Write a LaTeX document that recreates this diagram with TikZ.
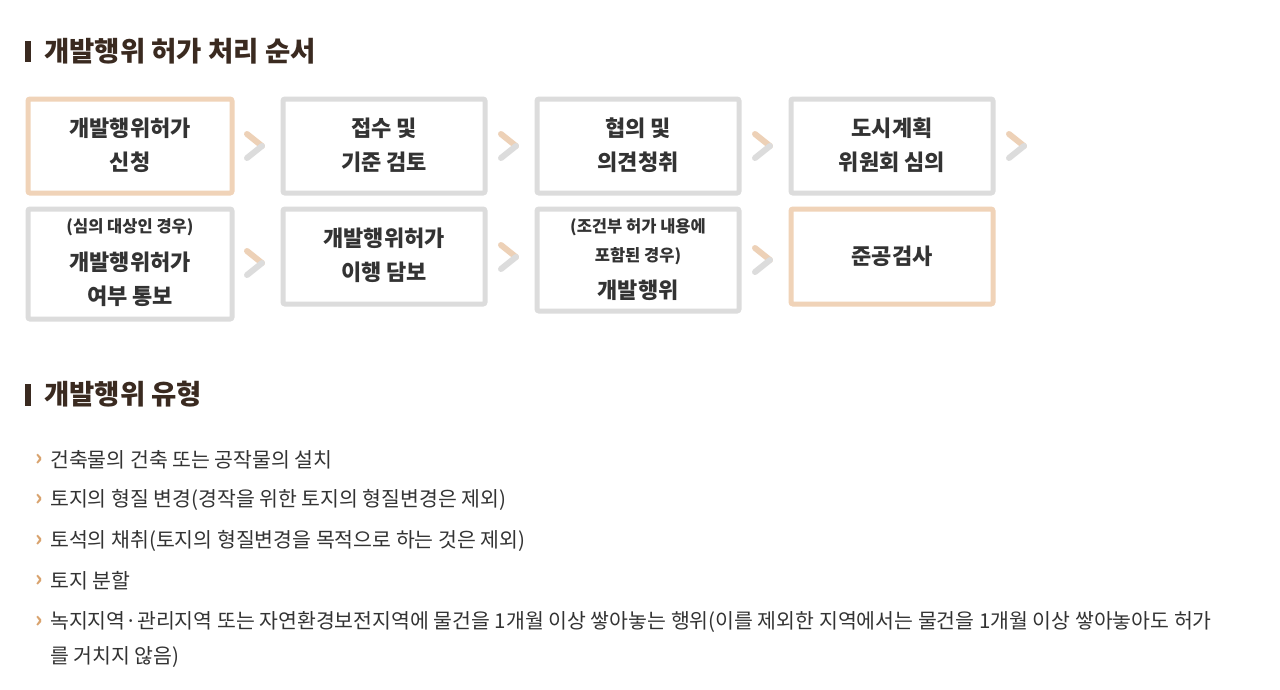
\documentclass[tikz,border=0pt]{standalone}
\usepackage{fontspec}
\setmainfont{Noto Sans CJK KR}
\definecolor{peach}{HTML}{F0D3B8}
\definecolor{gbox}{HTML}{DCDCDC}
\definecolor{txt}{HTML}{333333}
\definecolor{ttl}{HTML}{3A2A20}
\definecolor{bul}{HTML}{D9A36E}
\begin{document}
\begin{tikzpicture}[x=1pt,y=-1pt,
  boxg/.style={draw=gbox,line width=5pt,rounded corners=2pt,fill=white},
  boxp/.style={draw=peach,line width=5pt,rounded corners=2pt,fill=white},
  btxt/.style={font=\fontsize{22}{34}\selectfont\bfseries,text=txt,align=center},
  stxt/.style={font=\fontsize{16.5}{29}\selectfont\bfseries,text=txt,align=center},
  ttlt/.style={font=\fontsize{27.5}{30}\selectfont\bfseries,text=ttl,anchor=west,inner sep=0pt},
  lit/.style={font=\fontsize{20.5}{24}\selectfont,text=txt,anchor=west,inner sep=0pt},
  bl/.style={font=\fontsize{22}{24}\selectfont\bfseries,text=bul,inner sep=0pt}]
\useasboundingbox (0,0) rectangle (1280,689);
\fill[white] (0,0) rectangle (1280,689);
\newcommand\chev[2]{%
  \draw[peach!85!brown,line width=6pt,line cap=round,opacity=.8] (#1-9,#2-12) -- (#1+6,#2);
  \draw[gbox,line width=6pt,line cap=round] (#1+6,#2) -- (#1-9,#2+12);}
% title 1
\fill[ttl] (25,41) rectangle (31,62);
\node[ttlt] (t1) at (44,51) {개발행위 허가 처리 순서};
% row 1
\draw[boxp] (28,99) rectangle (232,193); \node[btxt] (a1) at (130,145) {개발행위허가\\신청};
\draw[boxg] (283,99) rectangle (485,193); \node[btxt] (a2) at (384,145) {접수 및\\기준 검토};
\draw[boxg] (537,99) rectangle (739,193); \node[btxt] (a3) at (638,145) {협의 및\\의견청취};
\draw[boxg] (791,99) rectangle (993,193); \node[btxt] (a4) at (892,145) {도시계획\\위원회 심의};
\chev{256}{146}\chev{510}{146}\chev{764}{146}\chev{1018}{146}
% row 2
\draw[boxg] (28,209) rectangle (232,319);
\node[stxt] (b1s) at (130,227) {(심의 대상인 경우)};
\node[btxt] (b1) at (130,279) {개발행위허가\\여부 통보};
\draw[boxg] (283,209) rectangle (485,304); \node[btxt] (b2) at (384,255) {개발행위허가\\이행 담보};
\draw[boxg] (537,209) rectangle (739,311);
\node[stxt] (b3s) at (638,242) {(조건부 허가 내용에\\포함된 경우)};
\node[btxt] (b3) at (638,290) {개발행위};
\draw[boxp] (791,209) rectangle (993,304); \node[btxt] (b4) at (892,256) {준공검사};
\chev{256}{263}\chev{510}{257}\chev{764}{260}
% title 2
\fill[ttl] (25,384) rectangle (31,406);
\node[ttlt] (t2) at (44,394) {개발행위 유형};
% list
\foreach \yy/\tt [count=\i] in {460/건축물의 건축 또는 공작물의 설치,
  500/토지의 형질 변경(경작을 위한 토지의 형질변경은 제외),
  541/토석의 채취(토지의 형질변경을 목적으로 하는 것은 제외),
  581/토지 분할,
  622/녹지지역·관리지역 또는 자연환경보전지역에 물건을 1개월 이상 쌓아놓는 행위(이를 제외한 지역에서는 물건을 1개월 이상 쌓아놓아도 허가}{
  \node[bl] (m\i) at (39,\yy) {›};
  \node[lit] (l\i) at (50,\yy) {\tt};}
\node[lit] (l6) at (50,657) {를 거치지 않음)};
\end{tikzpicture}
\end{document}
